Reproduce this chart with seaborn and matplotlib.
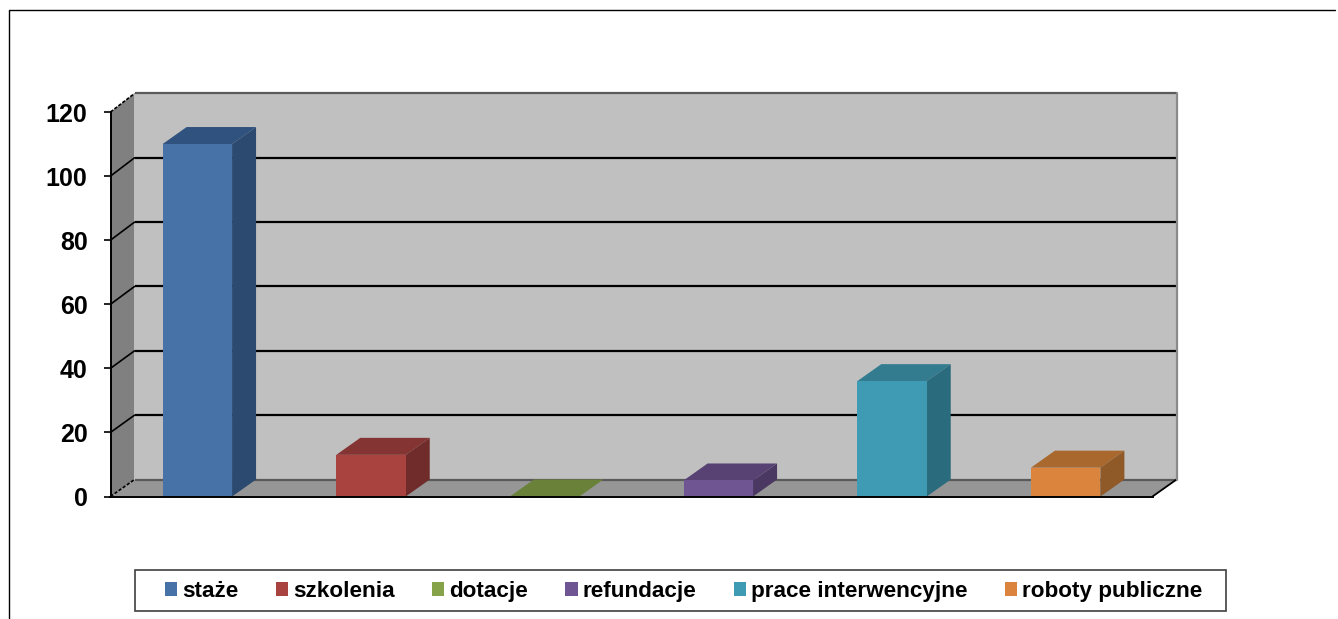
import matplotlib
matplotlib.use("Agg")
import matplotlib.pyplot as plt
from matplotlib.lines import Line2D
from matplotlib.patches import Polygon, Rectangle
import seaborn as sns

categories = ["staże", "szkolenia", "dotacje", "refundacje", "prace interwencyjne", "roboty publiczne"]
values = [110, 13, 0, 5, 36, 9]
y_ticks = [0, 20, 40, 60, 80, 100, 120]
colors = ["#4672a8", "#a8433f", "#87a34a", "#6f5693", "#3f9bb4", "#db843d"]
top_colors = ["#30527e", "#843432", "#6a8139", "#574273", "#337c90", "#a9682d"]
side_colors = ["#2c4a6f", "#6f2c2a", "#5a6e30", "#4a3762", "#2a6b7d", "#8f5a28"]

W, H = 1338, 619

sns.set_style("white")
plt.rcParams["font.family"] = ["Liberation Sans", "DejaVu Sans"]
plt.rcParams["text.color"] = "black"

fig = plt.figure(figsize=(W / 100, H / 100), dpi=100)
# axes = front plane of the fake 3D box, in pixels of the reference
left, right, top, bottom = 110.5, 1152.5, 112, 496.5
ax = fig.add_axes([left / W, 1 - bottom / H, (right - left) / W, (bottom - top) / H])

sns.barplot(x=categories, y=values, hue=categories, palette=colors, width=0.4,
            saturation=1, legend=False, linewidth=0, ax=ax, zorder=3)
ax.set_xlim(-0.5, 5.5)
ax.set_ylim(0, 120)

# depth of the box in data units, back wall is a touch taller than the front
dx = 24 / ((right - left) / 6)
dy = 17 / ((bottom - top) / 120)
back = 1.004


def poly(points, color, z, edge="none", lw=0):
    ax.add_patch(Polygon(points, closed=True, facecolor=color, edgecolor=edge,
                         linewidth=lw, zorder=z, clip_on=False))


x0, x1 = -0.5, 5.5
y0, y1 = y_ticks[0], y_ticks[-1]
y1b = y1 * back + dy
# back wall, left wall, floor
poly([(x0 + dx, y0 + dy), (x1 + dx, y0 + dy), (x1 + dx, y1b), (x0 + dx, y1b)], "#c0c0c0", 0)
poly([(x0, y0), (x0 + dx, y0 + dy), (x0 + dx, y1b), (x0, y1)], "#808080", 0)
poly([(x0, y0), (x1, y0), (x1 + dx, y0 + dy), (x0 + dx, y0 + dy)], "#969696", 0)

for t in y_ticks:
    wall_col = "#5a5a5a" if t in (y0, y1) else "black"
    ax.plot([x0 + dx, x1 + dx], [t * back + dy, t * back + dy], color=wall_col, lw=1.6, zorder=1,
            clip_on=False, solid_capstyle="butt")
    ax.plot([x0, x0 + dx], [t, t * back + dy], color="black", lw=1.2, zorder=1, clip_on=False,
            ls=(0, (2, 1)) if t in (y0, y1) else "-")
ax.plot([x1, x1 + dx], [y0, y0 + dy], color="black", lw=1.3, zorder=1, clip_on=False)
ax.plot([x1 + dx, x1 + dx], [y0 + dy, y1b], color="#8a8a8a", lw=1.6, zorder=1, clip_on=False)

# top and side faces from the drawn bars
for bar, tc, sc in zip(ax.patches[:len(values)], top_colors, side_colors):
    xa, w, h = bar.get_x(), bar.get_width(), bar.get_height()
    poly([(xa, h), (xa + w, h), (xa + w + dx, h + dy), (xa + dx, h + dy)], tc, 2.5)
    poly([(xa + w, 0), (xa + w + dx, dy), (xa + w + dx, h + dy), (xa + w, h)], sc, 2.5)

for s in ["top", "right"]:
    ax.spines[s].set_visible(False)
for s in ["left", "bottom"]:
    ax.spines[s].set_visible(True)
    ax.spines[s].set_color("black")
    ax.spines[s].set_linewidth(1.4)
    ax.spines[s].set_zorder(4)
ax.patch.set_alpha(0)
ax.set_xticks([])
ax.set_yticks(y_ticks)
ax.tick_params(axis="y", left=True, length=5, width=1.2, color="black", pad=11.5)
for lab in ax.get_yticklabels():
    lab.set_fontsize(18)
    lab.set_fontweight("bold")
    lab.set_color("black")

# frame around the picture, only left and top
fig.add_artist(Line2D([9 / W, 9 / W, 1335 / W], [0, 1 - 10 / H, 1 - 10 / H], color="black", lw=1))

# legend box is wider than the entries, so it is drawn on its own
fig.add_artist(Rectangle((134.5 / W, 1 - 611 / H), 1091.5 / W, 41 / H, transform=fig.transFigure,
                         facecolor="white", edgecolor="#404040", linewidth=1.2))
handles = [Rectangle((0, 0), 1, 1, facecolor=c, edgecolor="none") for c in colors]
leg = fig.legend(handles, categories, ncol=6, loc="center", bbox_to_anchor=(683.5 / W, 1 - 591.5 / H),
                 frameon=False, labelcolor="black",
                 prop={"weight": "bold", "size": 16.2}, handlelength=0.55, handleheight=0.55,
                 handletextpad=0.22, columnspacing=1.66, borderpad=0, borderaxespad=0)

fig.savefig("out.png", dpi=100)
